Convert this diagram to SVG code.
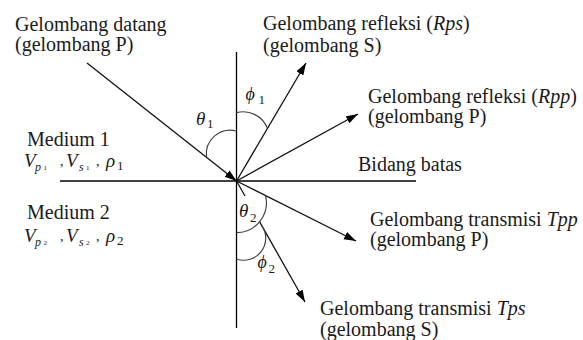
<svg xmlns="http://www.w3.org/2000/svg" width="583" height="340" viewBox="0 0 583 340">
<defs>
<marker id="arr" markerUnits="userSpaceOnUse" markerWidth="13" markerHeight="9" refX="12" refY="4" orient="auto">
<path d="M0,0 L12,4 L0,8 z" fill="#000"/>
</marker>
<style>
.t{font-family:"Liberation Serif","Times New Roman",serif;font-size:20px;fill:#1a1a1a}
.i{font-style:italic}
.m{font-family:"Liberation Serif","DejaVu Serif",serif;font-style:italic;fill:#1a1a1a}
.n{font-family:"Liberation Serif","DejaVu Serif",serif;fill:#1a1a1a}
.ax{stroke:#000;stroke-width:1.3;fill:none}
.ray{stroke:#111;stroke-width:1.3;fill:none;marker-end:url(#arr)}
.arc{stroke:#444;stroke-width:1.2;fill:none}
</style>
</defs>
<rect width="583" height="340" fill="#fff"/>

<g id="connectors">
<line class="ax" x1="236.5" y1="52" x2="236.5" y2="328"/>
<line class="ax" x1="60" y1="181" x2="416" y2="181"/>
<line class="ray" x1="87" y1="63" x2="236.5" y2="181"/>
<line class="ray" x1="236.5" y1="181" x2="306" y2="63"/>
<line class="ray" x1="236.5" y1="181" x2="358" y2="114"/>
<line class="ray" x1="236.5" y1="181" x2="356" y2="241"/>
<path class="ray" d="M236.5,181 L245,196 M259.5,221.6 L305,302"/>
</g>

<g id="angle-arcs">
<path class="arc" d="M236.5,131 A24,24 0 0 0 206.5,157.3"/>
<path class="arc" d="M236.5,112.7 A26,26 0 0 1 267.5,128.5"/>
<path class="arc" d="M236.5,232.7 A30,30 0 0 0 265.5,195.5"/>
<path class="arc" d="M236.5,259 A22,22 0 0 0 262,226"/>
</g>

<g id="incident">
<text class="t"><tspan x="15" y="30.5">Gelombang datang</tspan><tspan x="15" dy="20.5">(gelombang P)</tspan></text>
</g>

<g id="reflected-s">
<text class="t"><tspan x="263" y="29.5">Gelombang refleksi (<tspan class="i">Rps</tspan>)</tspan><tspan x="263" dy="22">(gelombang S)</tspan></text>
</g>

<g id="reflected-p">
<text class="t"><tspan x="368" y="102.5">Gelombang refleksi (<tspan class="i">Rpp</tspan>)</tspan><tspan x="368" dy="20.5">(gelombang P)</tspan></text>
</g>

<g id="boundary">
<text class="t" x="358" y="171">Bidang batas</text>
</g>

<g id="transmitted-p">
<text class="t"><tspan x="370" y="225.5">Gelombang transmisi <tspan class="i">Tpp</tspan></tspan><tspan x="370" dy="20.5">(gelombang P)</tspan></text>
</g>

<g id="transmitted-s">
<text class="t"><tspan x="320" y="315">Gelombang transmisi <tspan class="i">Tps</tspan></tspan><tspan x="320" dy="20.5">(gelombang S)</tspan></text>
</g>

<g id="medium1">
<text class="t" x="27" y="146">Medium 1</text>
<text class="m" x="24" y="167" font-size="19">V</text>
<text class="m" x="35" y="171" font-size="12">p</text>
<text class="n" x="43.5" y="170" font-size="7">1</text>
<text class="n" x="60" y="166" font-size="14">,</text>
<text class="m" x="66" y="167" font-size="19">V</text>
<text class="m" x="79" y="171" font-size="12">s</text>
<text class="n" x="86" y="170" font-size="7">1</text>
<text class="n" x="96" y="166" font-size="14">,</text>
<text class="m" x="106" y="167" font-size="19">ρ</text>
<text class="n" x="117" y="170" font-size="13">1</text>
</g>

<g id="medium2">
<text class="t" x="27" y="219">Medium 2</text>
<text class="m" x="24" y="242" font-size="19">V</text>
<text class="m" x="35" y="246" font-size="12">p</text>
<text class="n" x="43.5" y="245" font-size="7">2</text>
<text class="n" x="60" y="241" font-size="14">,</text>
<text class="m" x="66" y="242" font-size="19">V</text>
<text class="m" x="79" y="246" font-size="12">s</text>
<text class="n" x="86" y="245" font-size="7">2</text>
<text class="n" x="96" y="241" font-size="14">,</text>
<text class="m" x="106" y="242" font-size="19">ρ</text>
<text class="n" x="117" y="245" font-size="13">2</text>
</g>

<g id="theta1">
<text class="m" x="196" y="125" font-size="19">θ</text>
<text class="n" x="207" y="128" font-size="13">1</text>
</g>
<g id="phi1">
<text class="m" x="245.5" y="100" font-size="18">ϕ</text>
<text class="n" x="258.5" y="104" font-size="13">1</text>
</g>
<g id="theta2">
<text class="m" x="239" y="217" font-size="19">θ</text>
<text class="n" x="250" y="222" font-size="13">2</text>
</g>
<g id="phi2">
<text class="m" x="257.5" y="268" font-size="18">ϕ</text>
<text class="n" x="268.5" y="273" font-size="13">2</text>
</g>
</svg>
